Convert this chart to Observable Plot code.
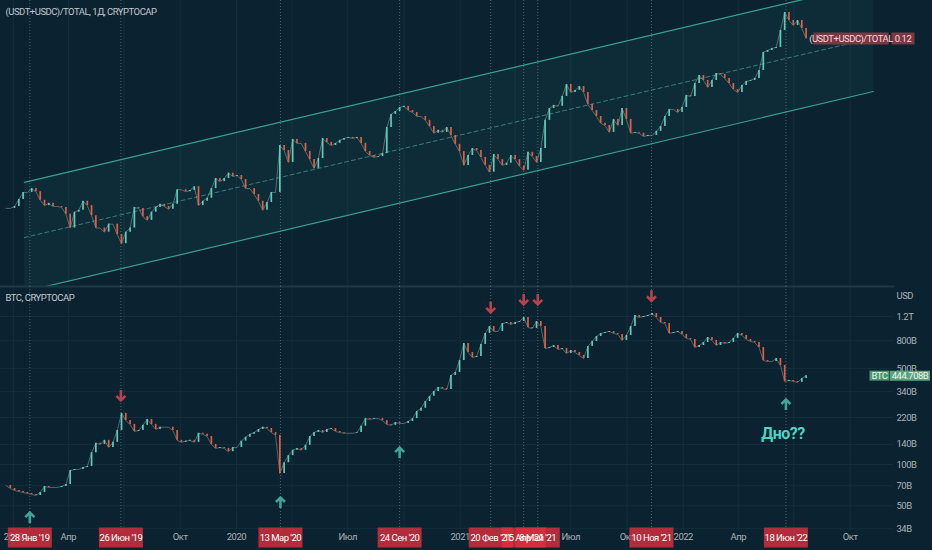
<!DOCTYPE html>
<html><head><meta charset="utf-8">
<script src="https://cdn.jsdelivr.net/npm/d3@7"></script>
<script src="https://cdn.jsdelivr.net/npm/@observablehq/plot@0.6"></script>
<style>
html,body{margin:0;padding:0;background:#0b2230;overflow:hidden}
#wrap{position:relative;width:932px;height:550px;background:#0b2230}
#wrap svg{position:absolute;left:0;overflow:visible}
#wrap svg text{letter-spacing:-0.5px}
</style></head>
<body><div id="wrap"></div>
<script>
// ---------- data ----------
const weekStart = "2018-12-20"; // weekly closes from this date
const ratioClose = [
0.0204,0.0204,0.0208,0.0224,0.0241,0.0241,0.0251,0.0243,0.0222,0.0210,
0.0215,0.0208,0.0208,0.0206,0.0192,0.0166,0.0196,0.0200,0.0220,0.0210,
0.0189,0.0166,0.0166,0.0159,0.0173,0.0173,0.0155,0.0141,0.0159,0.0166,
0.0206,0.0204,0.0187,0.0180,0.0196,0.0206,0.0213,0.0208,0.0202,0.0213,
0.0248,0.0248,0.0243,0.0246,0.0256,0.0210,0.0220,0.0227,0.0251,0.0279,
0.0270,0.0279,0.0295,0.0285,0.0288,0.0276,0.0251,0.0251,0.0236,0.0220,
0.0200,0.0217,0.0241,0.0241,0.0394,0.0374,0.0330,0.0420,0.0403,0.0403,
0.0370,0.0340,0.0310,0.0344,0.0424,0.0407,0.0394,0.0403,0.0416,0.0424,
0.0429,0.0424,0.0429,0.0403,0.0370,0.0355,0.0348,0.0351,0.0362,0.0476,
0.0546,0.0563,0.0587,0.0594,0.0569,0.0557,0.0534,0.0534,0.0513,0.0481,
0.0448,0.0462,0.0452,0.0476,0.0438,0.0399,0.0370,0.0320,0.0355,0.0382,
0.0374,0.0348,0.0320,0.0298,0.0359,0.0340,0.0320,0.0327,0.0355,0.0340,
0.0317,0.0304,0.0367,0.0351,0.0330,0.0382,0.0513,0.0581,0.0600,0.0594,
0.0659,0.0747,0.0687,0.0702,0.0731,0.0687,0.0606,0.0569,0.0534,0.0497,
0.0486,0.0452,0.0518,0.0486,0.0581,0.0518,0.0448,0.0452,0.0448,0.0433,
0.0438,0.0438,0.0457,0.0481,0.0534,0.0575,0.0575,0.0557,0.0587,0.0666,
0.0659,0.0755,0.0821,0.0779,0.0724,0.0779,0.0838,0.0830,0.0796,0.0755,
0.0709,0.0687,0.0739,0.0771,0.0779,0.0796,0.0865,0.1045,0.1067,0.1089,
0.1101,0.1315,0.1587,0.1460,0.1386,0.1460,0.1343,0.1209
];
const btcCapB = [ // BTC market cap, billions USD
70.3,66.8,64.6,63.5,62.5,61.4,60.4,59.4,62.5,69.1,
68.0,68.0,68.0,69.1,71.5,90.4,91.9,91.9,95.1,96.7,
122,143,140,150,133,145,177,236,209,196,
174,177,193,213,196,180,187,187,187,177,
150,145,148,150,145,169,166,160,140,131,
133,131,124,133,133,148,158,166,171,180,
187,183,171,163,85.9,103,116,127,131,127,
138,160,171,177,171,180,183,174,171,169,
169,169,171,190,216,213,216,216,209,196,
193,202,199,199,206,216,244,257,288,314,
341,365,358,352,446,469,573,763,656,603,
614,751,903,1015,933,933,1067,1085,1049,1085,
1104,1181,998,981,1104,1015,701,713,738,690,
701,645,678,656,624,593,726,790,858,903,
918,933,903,888,803,873,1015,1221,1181,1201,
1221,1263,1181,1085,1067,903,918,933,888,831,
817,713,738,776,844,803,738,776,764,776,
831,903,873,817,790,776,713,573,563,563,
593,527,403,410,403,397,424,444.708
];
// regression channel end points (ratio)
const channelDates = ["2019-01-19", "2022-11-08"];
const channelUpper = [0.0268, 0.2162];
const channelMid = [0.01503, 0.1216];
const channelLower = [0.00854, 0.0694];
// marked turning points
const markDates = ["2019-01-28","2019-06-26","2020-03-13","2020-09-24","2021-02-20","2021-04-15","2021-05-08","2021-11-10","2022-06-18"];
const markLabels = ["28 Янв '19","26 Июн '19","13 Мар '20","24 Сен '20","20 Фев '21","15 Апр '21","8 Май '21","10 Ноя '21","18 Июн '22"];
const markKinds = ["low","high","low","low","high","high","high","high","low"];
const markArrowB = [41, 319, 52.8, 122, 1400, 1600, 1600, 1700, 274];
const labelDrawOrder = [0,1,2,3,4,6,5,7,8];
const bottomNoteDate = "2022-06-18";
const bottomNoteB = 168;
const bottomNote = "Дно??";
const priceTicksB = [34,50,70,100,140,220,340,500,800,1200];
const quarterTickDates = ["2019-01-01","2019-04-01","2019-07-01","2019-10-01","2020-01-01","2020-04-01","2020-07-01","2020-10-01","2021-01-01","2021-04-01","2021-07-01","2021-10-01","2022-01-01","2022-04-01","2022-07-01","2022-10-01"];
const timeLabelDates = ["2019-01-01","2019-04-01","2019-10-01","2020-01-01","2020-07-01","2021-01-01","2021-07-01","2021-10-01","2022-01-01","2022-04-01","2022-10-01"];
const monthNames = ["Янв","Фев","Мар","Апр","Май","Июн","Июл","Авг","Сен","Окт","Ноя","Дек"];
const topLegend = "(USDT+USDC)/TOTAL, 1Д, CRYPTOCAP";
const bottomLegend = "BTC, CRYPTOCAP";
const ratioName = "(USDT+USDC)/TOTAL";
const btcName = "BTC";

// ---------- derived ----------
const weekDates = ratioClose.map((_, i) => d3.utcDay.offset(new Date(weekStart), 7 * i));
const toCandles = (closes) => closes.map((c, i) => ({date: weekDates[i], open: i ? closes[i - 1] : c, close: c}));
const ratioCandles = toCandles(ratioClose);
const btcCandles = toCandles(btcCapB);
const channel = channelDates.map((d, i) => ({date: new Date(d), upper: channelUpper[i], mid: channelMid[i], lower: channelLower[i]}));
const markRows = markDates.map((d, i) => ({date: new Date(d), label: markLabels[i], kind: markKinds[i], level: markArrowB[i]}));
const quarterTicks = quarterTickDates.map(d => new Date(d));
const timeLabels = timeLabelDates.map(d => new Date(d));
const xDomain = [new Date("2018-12-11"), new Date("2022-12-11")];

const FONT = 'Roboto,"Liberation Sans",sans-serif';
const GRID = "#142f3d", TXT = "#aab1b8";
const UP = "#5ccdb9", DOWN = "#e45d43";
const rectSymbol = (w, h) => ({draw(ctx) { ctx.rect(-w / 2, -h / 2, w, h); }});
const arrowDown = {draw(ctx) { ctx.moveTo(0, -5.5); ctx.lineTo(0, 5); ctx.moveTo(-4.5, 0.5); ctx.lineTo(0, 5); ctx.lineTo(4.5, 0.5); }};
const arrowUp = {draw(ctx) { ctx.moveTo(0, 5.5); ctx.lineTo(0, -5); ctx.moveTo(-4.5, -0.5); ctx.lineTo(0, -5); ctx.lineTo(4.5, -0.5); }};
const candleMarks = (data) => [
  Plot.line(data, {x: "date", y: "close", stroke: "#b4bdb4", strokeWidth: 0.8, strokeOpacity: 0.55}),
  Plot.ruleX(data, {x: "date", y1: "open", y2: "close", stroke: d => d.close >= d.open ? UP : DOWN, strokeWidth: 1.7})
];
const fmtPrice = v => v >= 1000 ? (v / 1000) + "T" : v + "B";
const fmtQuarter = d => d.getUTCMonth() === 0 ? String(d.getUTCFullYear()) : monthNames[d.getUTCMonth()];
const lastRatio = ratioClose[ratioClose.length - 1];
const lastBtc = btcCapB[btcCapB.length - 1];
const FS = 9.5;

const topChart = Plot.plot({
  width: 932, height: 286, marginTop: 0, marginBottom: 0, marginLeft: 0, marginRight: 39,
  style: {background: "transparent", fontFamily: FONT, color: TXT, overflow: "visible"},
  x: {type: "utc", domain: xDomain, axis: null},
  y: {type: "log", domain: [0.009, 0.18], axis: null},
  marks: [
    Plot.gridX(quarterTicks, {stroke: GRID, strokeOpacity: 1}),
    Plot.areaY(channel, {x: "date", y1: "lower", y2: "upper", fill: "#1f6d66", fillOpacity: 0.15, clip: true}),
    Plot.ruleX(markRows, {x: "date", stroke: "#53656f", strokeDasharray: "1,2", strokeWidth: 1}),
    Plot.line(channel, {x: "date", y: "upper", stroke: "#3aa092", strokeWidth: 1.2, clip: true}),
    Plot.line(channel, {x: "date", y: "lower", stroke: "#3aa092", strokeWidth: 1.2, clip: true}),
    Plot.line(channel, {x: "date", y: "mid", stroke: "#3b7c78", strokeWidth: 1, strokeDasharray: "4,3", clip: true}),
    ...candleMarks(ratioCandles),
    Plot.text([topLegend], {frameAnchor: "top-left", dx: 5, dy: 11, textAnchor: "start", lineAnchor: "middle", fill: "#c3c8ce", fontSize: FS}),
    Plot.dot([lastRatio], {y: d => d, frameAnchor: "right", dx: -42.5, symbol: rectSymbol(75, 12), fill: "#7c3842"}),
    Plot.dot([lastRatio], {y: d => d, frameAnchor: "right", dx: 9.5, symbol: rectSymbol(23, 12), fill: "#7c3842"}),
    Plot.text([lastRatio], {y: d => d, frameAnchor: "right", dx: -42.5, textAnchor: "middle", text: () => ratioName, fill: "#f1d9dc", fontSize: FS}),
    Plot.text([lastRatio], {y: d => d, frameAnchor: "right", dx: 9.5, textAnchor: "middle", text: d => d.toFixed(2), fill: "#f1d9dc", fontSize: FS})
  ]
});

const bottomChart = Plot.plot({
  width: 932, height: 264, marginTop: 0, marginBottom: 20, marginLeft: 0, marginRight: 39,
  style: {background: "transparent", fontFamily: FONT, color: TXT, overflow: "visible"},
  x: {type: "utc", domain: xDomain, axis: null},
  y: {type: "log", domain: [33.0, 1987], axis: null},
  marks: [
    Plot.gridY(priceTicksB, {stroke: GRID, strokeOpacity: 1}),
    Plot.gridX(quarterTicks, {stroke: GRID, strokeOpacity: 1}),
    Plot.frame({anchor: "top", stroke: "#1d3847", strokeWidth: 2}),
    Plot.ruleX(markRows, {x: "date", stroke: "#53656f", strokeDasharray: "1,2", strokeWidth: 1}),
    Plot.text(priceTicksB, {y: d => d, frameAnchor: "right", dx: 3, textAnchor: "start", text: fmtPrice, fill: TXT, fontSize: FS}),
    Plot.axisX(timeLabels, {anchor: "bottom", tickSize: 0, tickPadding: 3, tickFormat: fmtQuarter, fill: TXT, fontSize: FS}),
    ...candleMarks(btcCandles),
    Plot.dot(markRows.filter(d => d.kind === "high"), {x: "date", y: "level", symbol: arrowDown, stroke: "#b5434f", fill: "none", strokeWidth: 2.6}),
    Plot.dot(markRows.filter(d => d.kind === "low"), {x: "date", y: "level", symbol: arrowUp, stroke: "#3fa596", fill: "none", strokeWidth: 2.6}),
    Plot.text([bottomNote], {x: () => new Date(bottomNoteDate), y: () => bottomNoteB, dx: -3, fill: "#4fd3c2", fontSize: 16, fontWeight: "bold"}),
    Plot.text([bottomLegend], {frameAnchor: "top-left", dx: 5, dy: 11, textAnchor: "start", lineAnchor: "middle", fill: "#c3c8ce", fontSize: FS}),
    Plot.text(["USD"], {frameAnchor: "top-right", dx: 3, dy: 9, textAnchor: "start", lineAnchor: "middle", fill: TXT, fontSize: FS}),
    Plot.dot([lastBtc], {y: d => d, frameAnchor: "right", dx: -14, symbol: rectSymbol(20, 10), fill: "#4d9470"}),
    Plot.dot([lastBtc], {y: d => d, frameAnchor: "right", dx: 16.5, symbol: rectSymbol(40, 10), fill: "#5aa37c"}),
    Plot.text([lastBtc], {y: d => d, frameAnchor: "right", dx: -14, textAnchor: "middle", text: () => btcName, fill: "#eaf5ee", fontSize: FS}),
    Plot.text([lastBtc], {y: d => d, frameAnchor: "right", dx: 16.5, textAnchor: "middle", text: d => d.toFixed(3) + "B", fill: "#eaf5ee", fontSize: FS}),
    Plot.dot(labelDrawOrder.map(i => markRows[i]), {x: "date", frameAnchor: "bottom", dy: 7, symbol: rectSymbol(44, 20), fill: "#dc303e", fillOpacity: 0.8}),
    Plot.text(labelDrawOrder.map(i => markRows[i]), {x: "date", frameAnchor: "bottom", dy: 7, text: "label", fill: "#ffffff", fontSize: FS, lineAnchor: "middle"})
  ]
});

const wrap = document.getElementById("wrap");
topChart.style.top = "0px";
bottomChart.style.top = "286px";
wrap.appendChild(topChart);
wrap.appendChild(bottomChart);
</script>
</body></html>
